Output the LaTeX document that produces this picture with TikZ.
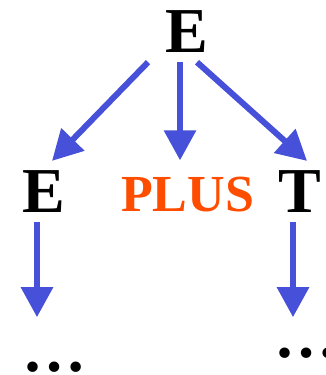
\documentclass[tikz,border=0pt]{standalone}
\usepackage{fontspec}
\setmainfont{Liberation Serif}
\usetikzlibrary{arrows.meta}
\definecolor{arrblue}{RGB}{70,80,216}
\definecolor{plusorange}{RGB}{255,77,0}
\tikzset{
  sym/.style={inner sep=0pt, anchor=base, font=\fontsize{64}{64}\selectfont\bfseries},
  tok/.style={inner sep=0pt, anchor=base, text=plusorange, font=\fontsize{52}{52}\selectfont\bfseries},
  arr/.style={draw=arrblue, line width=6pt, -{Triangle[length=30pt,width=31pt,fill=arrblue]}},
}
\begin{document}
\begin{tikzpicture}[x=1pt,y=-1pt]
\useasboundingbox (0,0) rectangle (325,375);
\node[sym] (top) at (187,52) {E};
\node[sym] (e1) at (44,212) {E};
\node[tok] (plus) at (187.5,211) {PLUS};
\node[sym] (t1) at (300,212) {T};
\node[sym] (d1) at (55,371) {…};
\node[sym] (d2) at (306,357) {…};
\draw[arr] ([xshift=-39pt,yshift=-10pt]top.south) -- ([xshift=8pt,yshift=9pt]e1.north);
\draw[arr] ([xshift=-7pt,yshift=-10pt]top.south) -- ([xshift=-7.5pt,yshift=16pt]plus.north);
\draw[arr] ([xshift=10pt,yshift=-10pt]top.south) -- ([xshift=7pt,yshift=9pt]t1.north);
\draw[arr] ([xshift=-7pt,yshift=-10pt]e1.south) -- ++(0,95);
\draw[arr] ([xshift=-7pt,yshift=-10pt]t1.south) -- ++(0,95);
\end{tikzpicture}
\end{document}
